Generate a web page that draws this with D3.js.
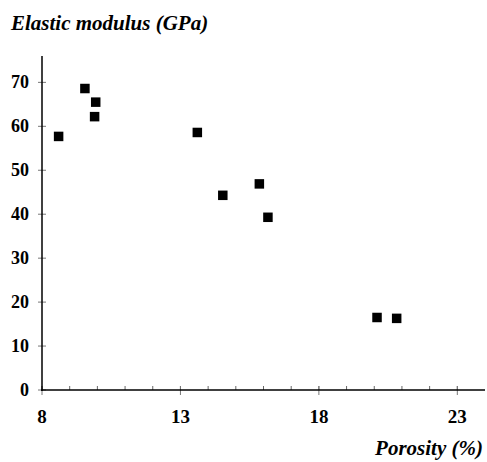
<!DOCTYPE html>
<html><head><meta charset="utf-8">
<script src="https://cdn.jsdelivr.net/npm/d3@7"></script>
<style>body{margin:0;background:#fff}svg{display:block}svg text{font-family:"Times New Roman",Tinos,"Liberation Serif",Times,serif;font-weight:bold}</style>
</head><body><div id="chart"></div>
<script>
const porosity = [8.6, 9.55, 9.94, 9.9, 13.61, 14.53, 15.85, 16.16, 20.1, 20.81];
const modulus  = [57.7, 68.6, 65.5, 62.2, 58.6, 44.3, 46.9, 39.3, 16.5, 16.3];
const xTicks = [8, 13, 18, 23];
const yTicks = [0, 10, 20, 30, 40, 50, 60, 70];
const xMinor = d3.range(8, 24, 1);

const FONT = '"Times New Roman", Tinos, "Liberation Serif", Times, serif';
const W = 487, H = 462;
const svg = d3.select("#chart").append("svg").attr("width", W).attr("height", H);
const x = d3.scaleLinear().domain([8, 24]).range([42, 485]);
const y = d3.scaleLinear().domain([0, 76]).range([390, 56]);

svg.append("text").attr("x", 11).attr("y", 30).attr("font-size", 21)
  .attr("font-weight", "bold").attr("font-style", "italic")
  .style("font-family", FONT).text("Elastic modulus (GPa)");
svg.append("text").attr("x", 483).attr("y", 455).attr("text-anchor", "end").attr("font-size", 21)
  .attr("font-weight", "bold").attr("font-style", "italic")
  .style("font-family", FONT).text("Porosity (%)");

svg.append("g").selectAll("text").data(yTicks).join("text")
  .attr("x", 29).attr("y", d => y(d) + 6).attr("text-anchor", "end")
  .attr("font-size", 18).attr("font-weight", "bold")
  .style("font-family", FONT).text(d => d);
svg.append("g").selectAll("text").data(xTicks).join("text")
  .attr("x", d => x(d)).attr("y", 423).attr("text-anchor", "middle")
  .attr("font-size", 19).attr("font-weight", "bold")
  .style("font-family", FONT).text(d => d);

svg.append("g").selectAll("line").data(xMinor).join("line")
  .attr("x1", d => x(d)).attr("x2", d => x(d)).attr("y1", y(0)).attr("y2", y(0) - 4)
  .attr("stroke", "#666").attr("stroke-width", 1);
svg.append("g").selectAll("line").data(xTicks).join("line")
  .attr("x1", d => x(d)).attr("x2", d => x(d)).attr("y1", y(0) - 4).attr("y2", y(0) + 5)
  .attr("stroke", "#777").attr("stroke-width", 1);
svg.append("g").selectAll("line").data(yTicks).join("line")
  .attr("x1", x(8) - 4).attr("x2", x(8) + 4).attr("y1", d => y(d)).attr("y2", d => y(d))
  .attr("stroke", "#777").attr("stroke-width", 1);

svg.append("line").attr("x1", x(8)).attr("x2", x(8)).attr("y1", y(76)).attr("y2", y(0) + 1)
  .attr("stroke", "#000").attr("stroke-width", 1.5);
svg.append("line").attr("x1", x(8) - 1).attr("x2", x(24)).attr("y1", y(0)).attr("y2", y(0))
  .attr("stroke", "#000").attr("stroke-width", 1.5);

const s = 9.5;
svg.append("g").selectAll("rect").data(porosity).join("rect")
  .attr("x", d => x(d) - s / 2).attr("y", (d, i) => y(modulus[i]) - s / 2)
  .attr("width", s).attr("height", s).attr("fill", "#000");
</script></body></html>
